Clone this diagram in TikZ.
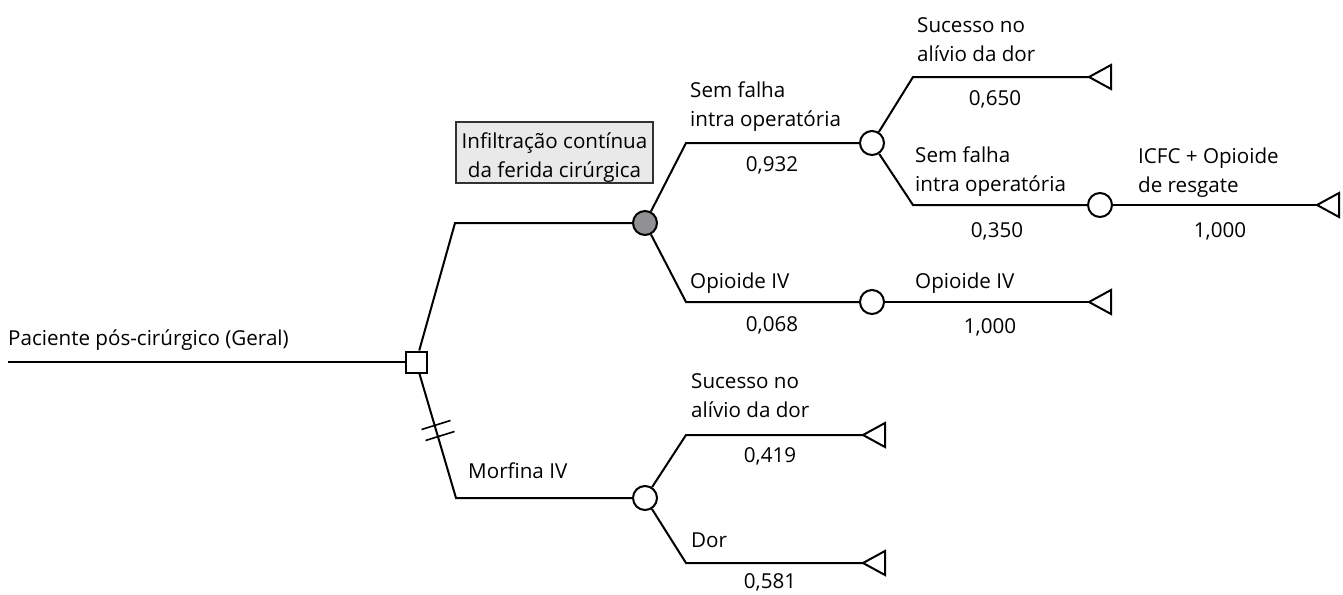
\documentclass[tikz,border=0pt]{standalone}
\usepackage{fontspec}
\setmainfont{Open Sans}
\definecolor{chancegrey}{RGB}{145,145,148}
\definecolor{boxfill}{RGB}{233,233,233}
\definecolor{boxline}{RGB}{50,50,50}
\tikzset{
  treeline/.style={line width=2pt, line join=miter},
  decisionnode/.style={draw, line width=2pt, fill=white, minimum size=21pt, inner sep=0pt},
  chancenode/.style={circle, draw, line width=2pt, fill=white, minimum size=24pt, inner sep=0pt},
  chancegreynode/.style={chancenode, fill=chancegrey},
  lbl/.style={inner sep=0pt, font=\fontsize{20.6}{29}\selectfont, align=left, anchor=base west},
  num/.style={inner sep=0pt, font=\fontsize{20.6}{29}\selectfont, anchor=base},
  labelbox/.style={draw=boxline, fill=boxfill, line width=1.3pt, minimum width=197pt, minimum height=61pt, inner sep=0pt},
  terminal/.style={line width=2pt, line join=miter}
}
\begin{document}
\begin{tikzpicture}[x=1pt,y=-1pt]
\clip (0,0) rectangle (1343,594);
% nodes
\coordinate (start) at (8,362);
\node[decisionnode] (sq) at (416,362) {};
\coordinate (eup) at (455,223);
\coordinate (edown) at (456,498);
\node[chancegreynode] (g1) at (645,223) {};
\node[chancenode] (cm) at (645,498) {};
\coordinate (e11) at (686,143);
\coordinate (e12) at (686,302);
\node[chancenode] (c1) at (872,143) {};
\node[chancenode] (c2) at (872,302) {};
\coordinate (e111) at (913,77);
\coordinate (e112) at (913,205);
\node[chancenode] (c3) at (1100,205) {};
\coordinate (t1) at (1089,77);
\coordinate (t2) at (1317,205);
\coordinate (t3) at (1089,302);
\coordinate (e21) at (686,435);
\coordinate (e22) at (686,563);
\coordinate (t4) at (863,435);
\coordinate (t5) at (863,563);
% connectors
\draw[treeline] (start) -- (sq);
\draw[treeline] (sq) -- (eup) -- (g1);
\draw[treeline] (sq) -- (edown) -- (cm);
\draw[treeline] (g1) -- (e11) -- (c1);
\draw[treeline] (g1) -- (e12) -- (c2);
\draw[treeline] (c1) -- (e111) -- (t1);
\draw[treeline] (c1) -- (e112) -- (c3);
\draw[treeline] (c3) -- (t2);
\draw[treeline] (c2) -- (t3);
\draw[treeline] (cm) -- (e21) -- (t4);
\draw[treeline] (cm) -- (e22) -- (t5);
% terminal triangles
\foreach \t in {t1,t2,t3,t4,t5}
  \draw[terminal, fill=white] (\t) -- ++(22,-12) -- ++(0,24) -- cycle;
% redraw decision node on top
\node[decisionnode] at (sq) {};
% double tick on pruned branch
\draw[line width=1.6pt] (421.5,429.5) -- (450.5,420.5);
\draw[line width=1.6pt] (425.5,440.5) -- (454.5,431.5);
% labels
\node[lbl] (lstart) at (8,345) {Paciente pós-cirúrgico (Geral)};
\node[labelbox] (box) at (554.5,152.5) {};
\node[num, align=center] (boxtxt) at (554.5,177) {Infiltração contínua\\da ferida cirúrgica};
\node[lbl] (l1) at (690,126) {Sem falha\\intra operatória};
\node[num] (n1) at (772,171) {0,932};
\node[lbl] (l2) at (690,288) {Opioide IV};
\node[num] (n2) at (772,331) {0,068};
\node[lbl] (l3) at (917,62) {Sucesso no\\alívio da dor};
\node[num] (n3) at (995,105) {0,650};
\node[lbl] (l4) at (915,191) {Sem falha\\intra operatória};
\node[num] (n4) at (997,237) {0,350};
\node[lbl] (l5) at (1138,192) {ICFC + Opioide\\de resgate};
\node[num] (n5) at (1220,237) {1,000};
\node[lbl] (l6) at (915,288) {Opioide IV};
\node[num] (n6) at (990,333) {1,000};
\node[lbl] (l7) at (468,478) {Morfina IV};
\node[lbl] (l8) at (691,417) {Sucesso no\\alívio da dor};
\node[num] (n8) at (770,462) {0,419};
\node[lbl] (l9) at (691,547) {Dor};
\node[num] (n9) at (770,588) {0,581};
\end{tikzpicture}
\end{document}
